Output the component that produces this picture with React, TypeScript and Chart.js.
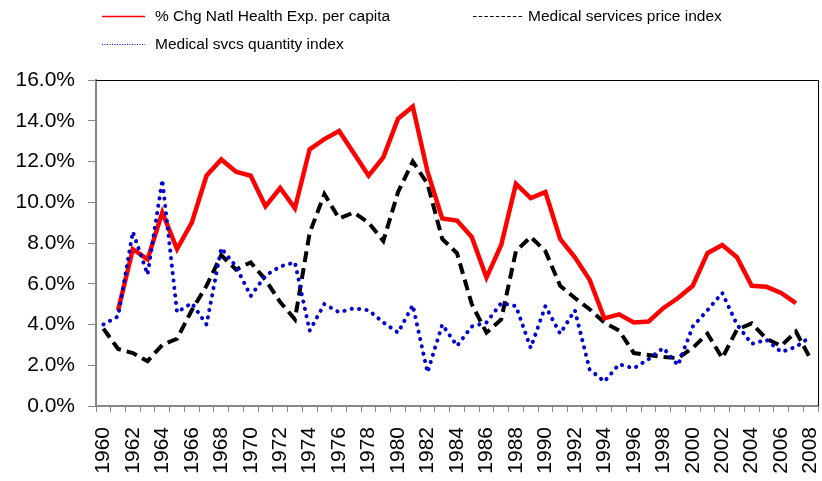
import React, { useEffect, useRef } from 'react';
import { Chart, registerables } from 'chart.js';

Chart.register(...registerables);

const years = [
  '1960', '1961', '1962', '1963', '1964', '1965', '1966', '1967', '1968', '1969',
  '1970', '1971', '1972', '1973', '1974', '1975', '1976', '1977', '1978', '1979',
  '1980', '1981', '1982', '1983', '1984', '1985', '1986', '1987', '1988', '1989',
  '1990', '1991', '1992', '1993', '1994', '1995', '1996', '1997', '1998', '1999',
  '2000', '2001', '2002', '2003', '2004', '2005', '2006', '2007', '2008',
];

const healthExpPerCapita = [
  null, 4.7, 7.7, 7.2, 9.5, 7.7, 9.0, 11.3, 12.1, 11.5,
  11.3, 9.8, 10.7, 9.7, 12.6, 13.1, 13.5, 12.4, 11.3, 12.2,
  14.1, 14.7, 11.5, 9.2, 9.1, 8.3, 6.3, 7.9, 10.9, 10.2,
  10.5, 8.2, 7.3, 6.2, 4.3, 4.5, 4.1, 4.15, 4.8, 5.3,
  5.9, 7.5, 7.9, 7.3, 5.9, 5.85, 5.55, 5.05, null,
];

const medPriceIndex = [
  3.8, 2.8, 2.6, 2.2, 3.0, 3.3, 4.7, 5.9, 7.4, 6.7,
  7.05, 6.2, 5.1, 4.25, 8.5, 10.4, 9.2, 9.5, 9.0, 8.1,
  10.5, 12.0, 10.9, 8.2, 7.5, 5.0, 3.6, 4.25, 7.6, 8.3,
  7.6, 5.9, 5.3, 4.75, 4.1, 3.7, 2.6, 2.5, 2.4, 2.35,
  2.85, 3.55, 2.35, 3.75, 4.05, 3.3, 2.95, 3.65, 2.3,
];

const medQuantityIndex = [
  4.0, 4.4, 8.55, 6.45, 11.1, 4.6, 5.05, 4.0, 7.75, 6.85,
  5.4, 6.4, 6.85, 7.05, 3.7, 5.0, 4.6, 4.8, 4.7, 4.1,
  3.6, 4.95, 1.65, 4.0, 2.95, 3.9, 4.1, 5.05, 4.9, 2.85,
  4.9, 3.55, 4.7, 1.8, 1.2, 2.05, 1.85, 2.3, 2.85, 2.0,
  3.9, 4.7, 5.55, 4.0, 3.05, 3.25, 2.65, 2.9, 3.4,
];

const seriesNames = [
  '% Chg Natl Health Exp. per capita',
  'Medical services price index',
  'Medical svcs quantity index',
];

const FONT = '"Liberation Sans", Arial, sans-serif';

export default function App() {
  const ref = useRef<HTMLCanvasElement>(null);

  useEffect(() => {
    document.body.style.margin = '0';
    const framePlugin = {
      id: 'frameAndLegend',
      afterDraw(chart: any) {
        const { ctx, chartArea } = chart;
        ctx.save();
        // top and right frame
        ctx.strokeStyle = '#000';
        ctx.lineWidth = 1;
        ctx.setLineDash([]);
        ctx.beginPath();
        ctx.moveTo(chartArea.left, chartArea.top + 0.5);
        ctx.lineTo(chartArea.right + 0.5, chartArea.top + 0.5);
        ctx.lineTo(chartArea.right + 0.5, chartArea.bottom);
        ctx.stroke();

        // legend
        ctx.font = `15.5px ${FONT}`;
        ctx.textBaseline = 'middle';
        ctx.fillStyle = '#000';
        // item 1
        ctx.strokeStyle = '#FF0000';
        ctx.lineWidth = 1.5;
        ctx.beginPath();
        ctx.moveTo(102, 16.5);
        ctx.lineTo(145, 16.5);
        ctx.stroke();
        ctx.fillText(seriesNames[0], 155, 17);
        // item 2
        ctx.strokeStyle = '#000';
        ctx.lineWidth = 1;
        ctx.setLineDash([3.5, 2.2]);
        ctx.beginPath();
        ctx.moveTo(473, 16.5);
        ctx.lineTo(524, 16.5);
        ctx.stroke();
        ctx.setLineDash([]);
        ctx.fillText(seriesNames[1], 528, 17);
        // item 3
        ctx.strokeStyle = '#0000FF';
        ctx.lineWidth = 1.2;
        ctx.setLineDash([1, 1.5]);
        ctx.beginPath();
        ctx.moveTo(102, 44.5);
        ctx.lineTo(145, 44.5);
        ctx.stroke();
        ctx.setLineDash([]);
        ctx.fillText(seriesNames[2], 155, 44.5);
        ctx.restore();
      },
    };

    const chart = new Chart(ref.current!, {
      type: 'line',
      data: {
        labels: years,
        datasets: [
          {
            label: seriesNames[2],
            data: medQuantityIndex,
            borderColor: '#0000D0',
            borderWidth: 4,
            borderDash: [0.2, 7.3],
            borderCapStyle: 'round',
            pointRadius: 0,
            tension: 0,
          },
          {
            label: seriesNames[0],
            data: healthExpPerCapita,
            borderColor: '#FF0000',
            borderWidth: 4.5,
            pointRadius: 0,
            tension: 0,
            borderJoinStyle: 'miter',
          },
          {
            label: seriesNames[1],
            data: medPriceIndex,
            borderColor: '#000000',
            borderWidth: 4,
            borderDash: [11, 6],
            pointRadius: 0,
            tension: 0,
          },
        ],
      },
      options: {
        animation: false,
        responsive: true,
        maintainAspectRatio: false,
        layout: { padding: { top: 80, right: 4, left: 0, bottom: 0 } },
        plugins: { legend: { display: false }, tooltip: { enabled: false } },
        scales: {
          x: {
            offset: true,
            grid: {
              offset: true,
              drawOnChartArea: false,
              tickLength: 6,
              color: '#868686',
              lineWidth: 1,
            },
            border: { color: '#868686', width: 2 },
            ticks: {
              autoSkip: false,
              maxRotation: 90,
              minRotation: 90,
              padding: 15,
              color: '#000',
              font: { family: FONT, size: 21 },
              callback: (_v: any, i: number) => (i % 2 === 0 ? years[i] : ''),
            },
            afterFit: (s: any) => {
              s.height = 75;
              s.paddingLeft = 0;
              s.paddingRight = 0;
            },
          },
          y: {
            min: 0,
            max: 16,
            ticks: {
              stepSize: 2,
              padding: 13,
              color: '#000',
              font: { family: FONT, size: 21 },
              callback: (v: any) => Number(v).toFixed(1) + '%',
            },
            grid: {
              drawOnChartArea: false,
              tickLength: 8,
              color: '#868686',
            },
            border: { color: '#868686', width: 2 },
            afterFit: (s: any) => {
              s.width = 96;
              s.paddingTop = 0;
              s.paddingBottom = 0;
            },
          },
        },
      },
      plugins: [framePlugin],
    } as any);

    return () => chart.destroy();
  }, []);

  return (
    <div style={{ width: 822, height: 481, position: 'relative' }}>
      <canvas ref={ref} />
    </div>
  );
}
